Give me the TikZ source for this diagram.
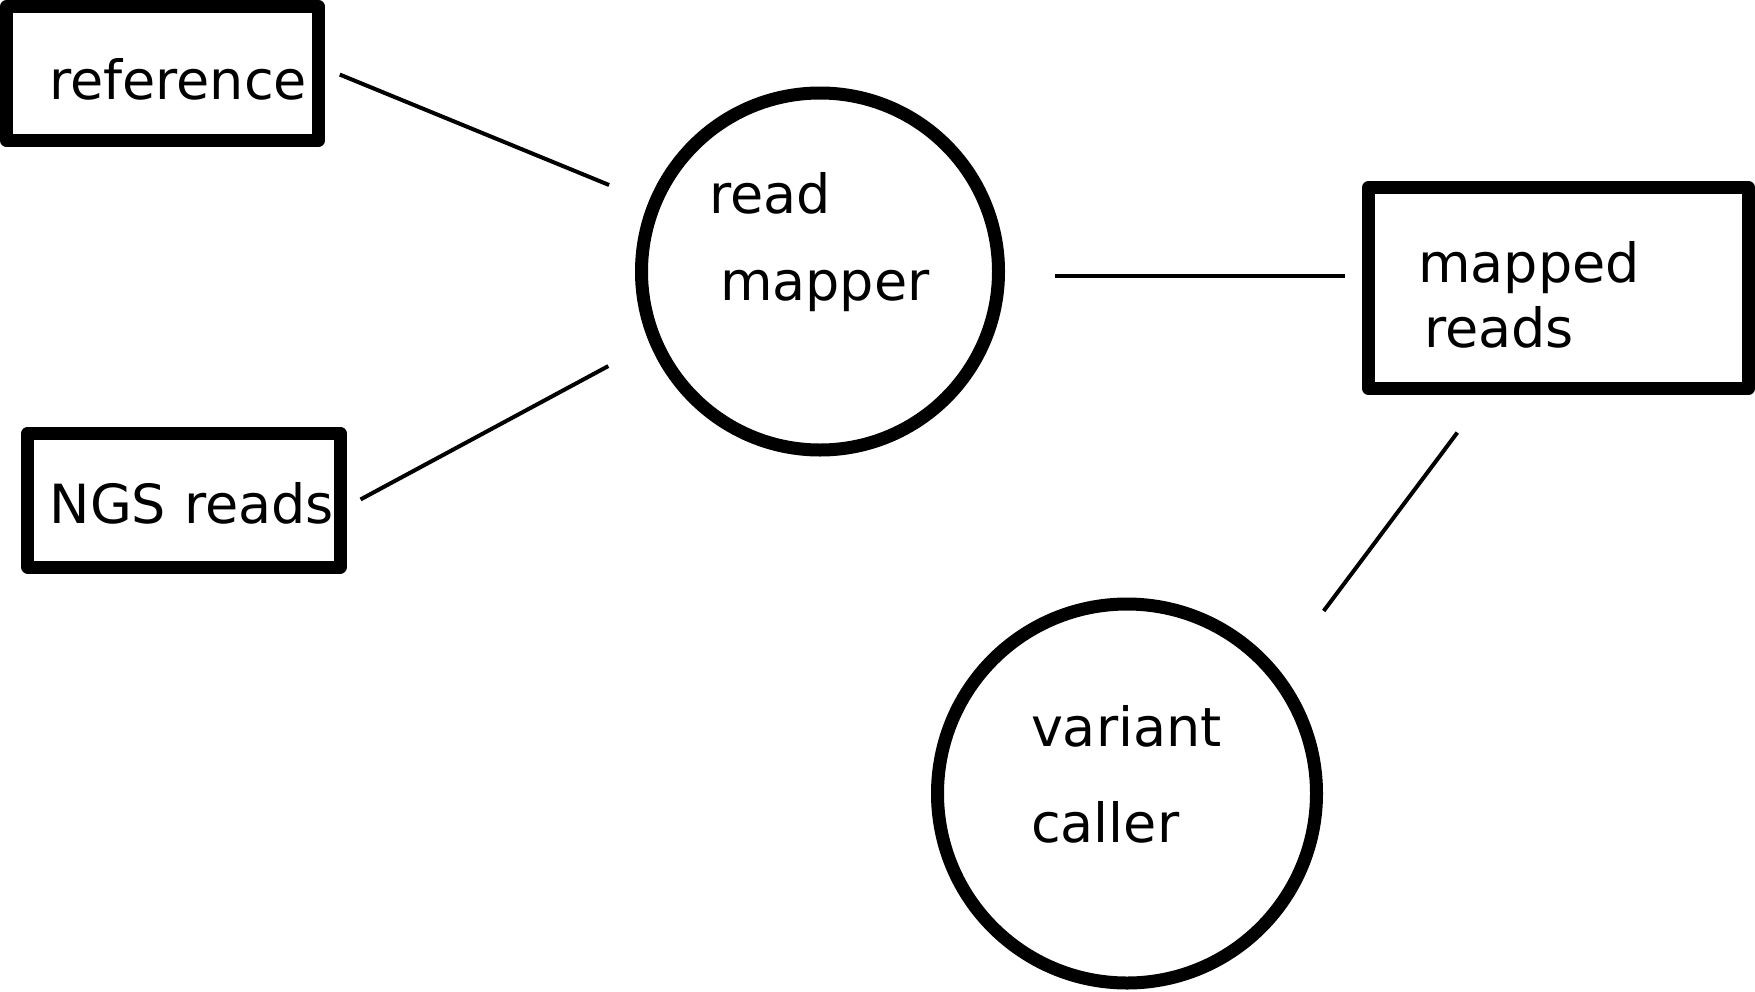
\documentclass[tikz,border=0pt]{standalone}
\usepackage{fontspec}
\setmainfont{DejaVu Sans}
\begin{document}
\begin{tikzpicture}[
    node distance = 400pt,
    font = \fontsize{54pt}{87pt}\selectfont,
    box/.style = {draw, line width = 13pt, line join = round, inner sep = 0pt, minimum width = 312pt, minimum height = 134pt, align = right},
    tool/.style = {draw, circle, line width = 13pt, inner sep = 0pt, align = left},
    link/.style = {line width = 4pt}
]
\useasboundingbox (-162.5pt, 73.5pt) rectangle (1592.5pt, -917.5pt);
\node[box] (ref) [text width = 289pt, text height = 51pt, text depth = 0pt] {reference};
\node[box] (ngs) [below of = ref, xshift = 21.5pt, yshift = -26.5pt, text width = 300pt, text height = 46pt, text depth = 0pt] {NGS reads};
\node[tool] (mapper) [right of = ref, xshift = 257.5pt, yshift = -198pt, minimum size = 357pt, text width = 222pt, text height = 41pt, text depth = 158pt] {read\\\hspace*{11pt}mapper};
\node[box] (mapped) [right of = mapper, xshift = 338.5pt, yshift = -16.5pt, minimum width = 380pt, minimum height = 201pt, align = left, font = \fontsize{54pt}{65pt}\selectfont, text width = 281pt, text height = 41pt, text depth = 53pt] {mapped\\\hspace*{6pt}reads};
\node[tool] (caller) [below of = mapper, xshift = 307pt, yshift = -122pt, minimum size = 379pt, font = \fontsize{54pt}{96pt}\selectfont, text width = 192pt, text height = 41pt, text depth = 136pt] {variant\\caller};
% lines
\path[link]
([yshift = 5pt]ref.east) edge[shorten <= 16pt, shorten >= 43pt] (mapper)
([yshift = -7pt]ngs.east) edge[shorten <= 16pt, shorten >= 47pt] (mapper.203)
([yshift = -4.5pt]mapper.east) edge[shorten <= 50pt, shorten >= 17pt] ([yshift = 12pt]mapped.west)
([xshift = -73pt]mapped.south) edge[shorten <= 47pt, shorten >= 74pt] (caller.39);
\end{tikzpicture}
\end{document}
